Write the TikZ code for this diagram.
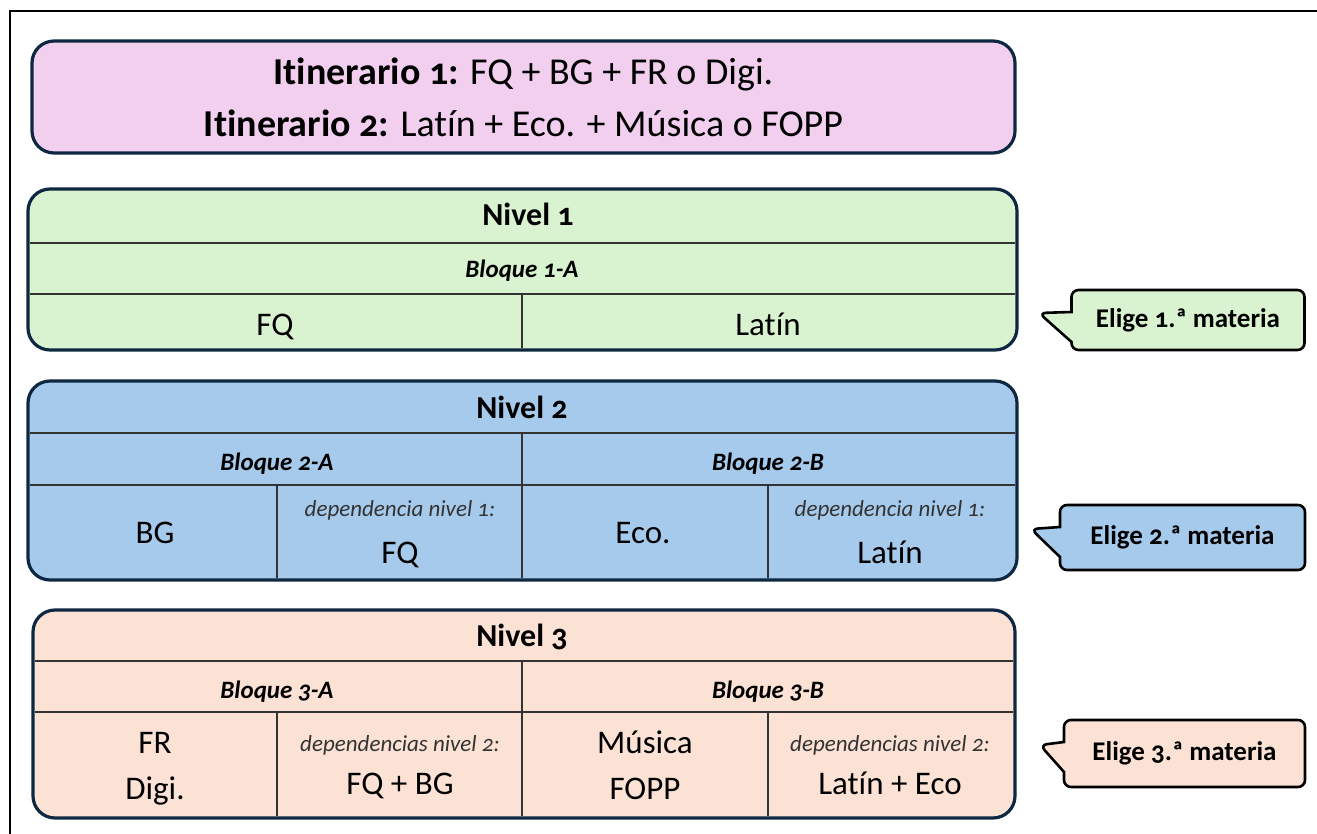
\documentclass[tikz,border=0pt]{standalone}
\usepackage{fontspec}
\setmainfont{Carlito}[Numbers=OldStyle, Ligatures=NoCommon]
\usetikzlibrary{positioning,shapes.callouts}
\definecolor{framecolor}{HTML}{0E2841}
\definecolor{itinfill}{HTML}{F2CEEF}
\definecolor{onefill}{HTML}{D9F2D0}
\definecolor{twofill}{HTML}{A6CAEC}
\definecolor{threefill}{HTML}{FBE2D5}
\definecolor{rulecolor}{HTML}{333333}
\tikzset{
	panel/.style={
		rectangle,
		rounded corners=22pt,
		line width=3.2pt,
		draw=framecolor,
		inner sep=0pt
	},
	rule/.style={
		draw=rulecolor,
		line width=1.3pt
	},
	nivel/.style={
		anchor=base,
		font=\fontsize{32}{36}\selectfont\bfseries
	},
	bloque/.style={
		anchor=base,
		font=\fontsize{25}{29}\selectfont\bfseries\itshape
	},
	materia/.style={
		anchor=base,
		font=\fontsize{33}{38}\selectfont
	},
	dep/.style={
		anchor=base,
		text=black!80,
		font=\fontsize{23}{27}\selectfont\itshape
	},
	elige/.style={
		rectangle callout,
		rounded corners=7pt,
		line width=2.6pt,
		draw=black,
		minimum width=233pt,
		minimum height=60pt,
		callout pointer width=30pt,
		font=\fontsize{27}{31}\selectfont\bfseries
	},
}

\begin{document}
\begin{tikzpicture}[x=1pt,y=-1pt]
	\useasboundingbox (0,0) rectangle (1317,834);
	\draw[line width=2.5pt] (10,834) -- (10,11) -- (1317,11);

	% itinerarios
	\node (itin) [panel, fill=itinfill, minimum width=983pt, minimum height=112pt, align=center,
		font=\fontsize{38}{52}\selectfont] at (523.5,97)
		{\textbf{Itinerario 1:} FQ + BG + FR o Digi.\\ \textbf{Itinerario 2:} Latín + Eco. + Música o FOPP};

	% nivel 1
	\node (n1) [panel, fill=onefill, minimum width=989pt, minimum height=161pt] at (522.5,269.5) {};
	\draw[rule] (30,243) -- (1015,243);
	\draw[rule] (30,294) -- (1015,294);
	\draw[rule] (522,294) -- (522,348);
	\node (n1t) [nivel] at (528,226) {Nivel 1};
	\node (b1a) [bloque] at (522,278) {Bloque 1-A};
	\node (fq1) [materia] at (275,335) {FQ};
	\node (lat1) [materia] at (768,335) {Latín};

	% nivel 2
	\node (n2) [panel, fill=twofill, minimum width=989pt, minimum height=199pt] at (522.5,480.5) {};
	\draw[rule] (30,433) -- (1015,433);
	\draw[rule] (30,485) -- (1015,485);
	\draw[rule] (522,433) -- (522,578);
	\draw[rule] (277,485) -- (277,578);
	\draw[rule] (768,485) -- (768,578);
	\node (n2t) [nivel] at (522,418) {Nivel 2};
	\node (b2a) [bloque] at (277,470) {Bloque 2-A};
	\node (b2b) [bloque] at (768,470) {Bloque 2-B};
	\node (bg2) [materia] at (155,543) {BG};
	\node (dep2a) [dep] at (400,516) {dependencia nivel 1:};
	\node (fq2) [materia] at (400,563) {FQ};
	\node (eco2) [materia] at (643,543) {Eco.};
	\node (dep2b) [dep] at (890,516) {dependencia nivel 1:};
	\node (lat2) [materia] at (890,563) {Latín};

	% nivel 3
	\node (n3) [panel, fill=threefill, minimum width=982pt, minimum height=208pt] at (524,714) {};
	\draw[rule] (35,661) -- (1013,661);
	\draw[rule] (35,712) -- (1013,712);
	\draw[rule] (522,661) -- (522,816);
	\draw[rule] (277,712) -- (277,816);
	\draw[rule] (768,712) -- (768,816);
	\node (n3t) [nivel] at (522,646) {Nivel 3};
	\node (b3a) [bloque] at (277,698) {Bloque 3-A};
	\node (b3b) [bloque] at (768,698) {Bloque 3-B};
	\node (fr3) [materia] at (155,753) {FR};
	\node (digi3) [materia] at (155,799) {Digi.};
	\node (dep3a) [dep] at (400,751) {dependencias nivel 2:};
	\node (fqbg3) [materia] at (400,794) {FQ + BG};
	\node (mus3) [materia] at (645,753) {Música};
	\node (fopp3) [materia] at (645,799) {FOPP};
	\node (dep3b) [dep] at (890,751) {dependencias nivel 2:};
	\node (lateco3) [materia] at (890,794) {Latín + Eco};

	% callouts
	\coordinate (tip1) at (1039,313);
	\coordinate (tip2) at (1031,529);
	\coordinate (tip3) at (1040,745);
	\node (elige1) [elige, fill=onefill, callout absolute pointer={(tip1)}] at (1188,320) {Elige 1.ª materia};
	\node (elige2) [elige, fill=twofill, minimum width=245pt, minimum height=65pt,
		callout absolute pointer={(tip2)}] at (1182.5,537.5) {Elige 2.ª materia};
	\node (elige3) [elige, fill=threefill, minimum width=241pt, minimum height=67pt,
		callout absolute pointer={(tip3)}] at (1184.5,753.5) {Elige 3.ª materia};
\end{tikzpicture}
\end{document}
